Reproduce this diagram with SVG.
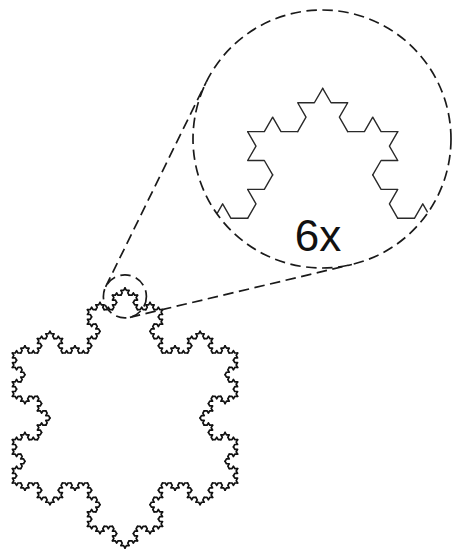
<svg xmlns="http://www.w3.org/2000/svg" xmlns:xlink="http://www.w3.org/1999/xlink" width="453" height="551" viewBox="0 0 453 551">
  <style>
    .seg{fill:none;vector-effect:non-scaling-stroke;stroke-linejoin:round;stroke-linecap:round}
    .dash{fill:none;stroke:#1a1a1a;stroke-width:1.7;stroke-dasharray:10.5 5.5}
    .lbl{font-family:"Liberation Sans",Arial,sans-serif;font-size:44px;fill:#111}
  </style>
  <defs>
    <polyline id="k1" class="seg" points="0,0 0.333333,0 0.5,-0.288675 0.666667,0 1,0"/>
    <g id="k2">
      <use href="#k1" transform="scale(0.333333)"/>
      <use href="#k1" transform="translate(0.333333,0) rotate(-60) scale(0.333333)"/>
      <use href="#k1" transform="translate(0.5,-0.288675) rotate(60) scale(0.333333)"/>
      <use href="#k1" transform="translate(0.666667,0) scale(0.333333)"/>
    </g>
    <g id="k3">
      <use href="#k2" transform="scale(0.333333)"/>
      <use href="#k2" transform="translate(0.333333,0) rotate(-60) scale(0.333333)"/>
      <use href="#k2" transform="translate(0.5,-0.288675) rotate(60) scale(0.333333)"/>
      <use href="#k2" transform="translate(0.666667,0) scale(0.333333)"/>
    </g>
    <g id="k4">
      <use href="#k3" transform="scale(0.333333)"/>
      <use href="#k3" transform="translate(0.333333,0) rotate(-60) scale(0.333333)"/>
      <use href="#k3" transform="translate(0.5,-0.288675) rotate(60) scale(0.333333)"/>
      <use href="#k3" transform="translate(0.666667,0) scale(0.333333)"/>
    </g>
    <g id="flake">
      <use href="#k4" transform="translate(125,288) rotate(60) scale(225.167)"/>
      <use href="#k4" transform="translate(237.583,483) rotate(180) scale(225.167)"/>
      <use href="#k4" transform="translate(12.417,483) rotate(-60) scale(225.167)"/>
    </g>
    <clipPath id="bigClip">
      <circle cx="322" cy="139" r="128.5"/>
    </clipPath>
  </defs>

  <g id="snowflake" stroke="#111" stroke-width="1.7">
    <use href="#flake"/>
  </g>

  <g id="magnified" clip-path="url(#bigClip)" stroke="#2a2a2a" stroke-width="1.4">
    <use href="#flake" transform="translate(-427.3,-1639.7) scale(6)"/>
  </g>

  <g id="small-circle">
    <circle class="dash" cx="124.9" cy="296.4" r="21.5"/>
  </g>

  <g id="big-circle">
    <circle class="dash" cx="322" cy="139" r="129"/>
  </g>

  <g id="connectors">
    <line class="dash" x1="105.6" y1="286.9" x2="206.2" y2="82.1"/>
    <line class="dash" x1="129.9" y1="317.3" x2="351.9" y2="264.5"/>
  </g>

  <g id="label">
    <text class="lbl" x="318" y="251" text-anchor="middle">6x</text>
  </g>
</svg>
